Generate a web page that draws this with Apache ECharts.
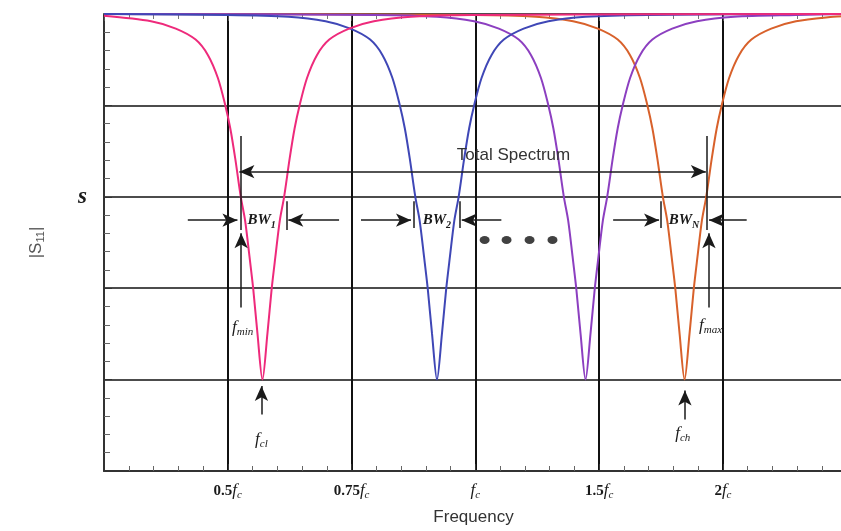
<!DOCTYPE html>
<html>
<head>
<meta charset="utf-8">
<script src="https://cdn.jsdelivr.net/npm/echarts@6/dist/echarts.min.js"></script>
<style>
  html, body { margin: 0; padding: 0; background: #fff; overflow: hidden; }
  /* a bit wider than the window so the plot runs off the right edge like the original */
  #chart { width: 846px; height: 531px; }
</style>
</head>
<body>
<div id="chart"></div>
<script>
// x ticks: one unit per grid column, label coefficient of f_c (null = no label)
const xTickCoef = [null, '0.5', '0.75', '', '1.5', '2'];
const yTickLabels = ['', '', '', 's', '', ''];

// |S11| curves, [x, y]
const pink = [[0,4.98],[0.38,4.92],[0.58,4.84],[0.74,4.72],[0.84,4.55],[0.92,4.3],[0.98,4.0],[1.02,3.75],[1.06,3.42],[1.105,3.0],[1.14,2.74],[1.175,2.35],[1.205,2.0],[1.24,1.5],[1.28,1.0],[1.32,1.5],[1.355,2.0],[1.385,2.35],[1.42,2.74],[1.455,3.0],[1.5,3.42],[1.54,3.75],[1.58,4.0],[1.64,4.3],[1.72,4.55],[1.82,4.72],[1.98,4.84],[2.18,4.92],[2.48,4.97],[2.98,4.99],[5.97,5.0]];
const blue = [[0,5.0],[0.99,4.99],[1.49,4.97],[1.79,4.92],[1.99,4.84],[2.15,4.72],[2.25,4.55],[2.33,4.3],[2.39,4.0],[2.43,3.75],[2.47,3.42],[2.515,3.0],[2.55,2.74],[2.585,2.35],[2.615,2.0],[2.65,1.5],[2.69,1.0],[2.73,1.5],[2.765,2.0],[2.795,2.35],[2.83,2.74],[2.865,3.0],[2.91,3.42],[2.95,3.75],[2.99,4.0],[3.05,4.3],[3.13,4.55],[3.23,4.72],[3.39,4.84],[3.59,4.92],[3.89,4.97],[4.39,4.99],[5.97,5.0]];
const purple = [[0,5.0],[2.19,4.99],[2.69,4.97],[2.99,4.92],[3.19,4.84],[3.35,4.72],[3.45,4.55],[3.53,4.3],[3.59,4.0],[3.63,3.75],[3.67,3.42],[3.715,3.0],[3.75,2.74],[3.785,2.35],[3.815,2.0],[3.85,1.5],[3.89,1.0],[3.93,1.5],[3.965,2.0],[3.995,2.35],[4.03,2.74],[4.065,3.0],[4.11,3.42],[4.15,3.75],[4.19,4.0],[4.25,4.3],[4.33,4.55],[4.43,4.72],[4.59,4.84],[4.79,4.92],[5.09,4.97],[5.59,4.99],[5.97,5.0]];
const orange = [[0,5.0],[2.99,4.99],[3.49,4.97],[3.79,4.92],[3.99,4.84],[4.15,4.72],[4.25,4.55],[4.33,4.3],[4.39,4.0],[4.43,3.75],[4.47,3.42],[4.515,3.0],[4.55,2.74],[4.585,2.35],[4.615,2.0],[4.65,1.5],[4.69,1.0],[4.73,1.5],[4.765,2.0],[4.795,2.35],[4.83,2.74],[4.865,3.0],[4.91,3.42],[4.95,3.75],[4.99,4.0],[5.05,4.3],[5.13,4.55],[5.23,4.72],[5.39,4.84],[5.59,4.92],[5.89,4.97],[5.97,4.975]];
const dots = [[3.075,2.527],[3.252,2.527],[3.438,2.527],[3.623,2.527]];

const serif = '"Liberation Serif", "DejaVu Serif", serif';
const sans = '"Liberation Sans", Arial, sans-serif';
const ink = '#1a1a1a';

const mathRich = {
  n: { fontFamily: serif, fontWeight: 'bold', fontSize: 15, color: ink },
  f: { fontFamily: serif, fontStyle: 'italic', fontSize: 17, color: ink },
  sub: { fontFamily: serif, fontStyle: 'italic', fontSize: 11, color: ink, padding: [9, 0, 0, 0] },
  bw: { fontFamily: serif, fontStyle: 'italic', fontWeight: 'bold', fontSize: 15, color: ink },
  bsub: { fontFamily: serif, fontStyle: 'italic', fontWeight: 'bold', fontSize: 10, color: ink, padding: [9, 0, 0, 0] },
  s: { fontFamily: serif, fontStyle: 'italic', fontWeight: 'bold', fontSize: 23, color: ink }
};

const chart = echarts.init(document.getElementById('chart'));

const curve = (name, data, color) => ({
  name, type: 'line', data, smooth: 0.3, showSymbol: false, silent: true,
  lineStyle: { color, width: 2 }, z: 3
});

// helpers for annotations (data coordinates)
const arrow = (x1, y1, x2, y2) => [{ coord: [x1, y1], symbol: 'none' }, { coord: [x2, y2], symbol: 'arrow' }];
const seg = (x1, y1, x2, y2) => [{ coord: [x1, y1], symbol: 'none' }, { coord: [x2, y2], symbol: 'none' }];
const txt = (x, y, formatter, extra) => ({
  coord: [x, y], symbol: 'circle', symbolSize: 0,
  label: Object.assign({ show: true, position: 'inside', formatter, rich: mathRich }, extra || {})
});

const option = {
  animation: false,
  backgroundColor: '#fff',
  grid: { left: 104, right: 0, top: 14, bottom: 56 },
  xAxis: [
    {
      type: 'value', min: 0, max: 5.97, interval: 1,
      axisLine: { show: true, lineStyle: { color: '#333', width: 2 } },
      axisTick: { show: true, inside: true, length: 7, lineStyle: { color: '#333' } },
      minorTick: { show: true, splitNumber: 5, length: 5, lineStyle: { color: '#666' } },
      splitLine: { show: true, lineStyle: { color: '#111', width: 2 } },
      axisLabel: {
        margin: 10,
        formatter: v => {
          const i = Math.round(v);
          if (Math.abs(v - i) > 1e-6 || xTickCoef[i] == null) return '';
          return (xTickCoef[i] ? '{n|' + xTickCoef[i] + '}' : '') + '{f|f}{sub|c}';
        },
        rich: mathRich
      },
      name: 'Frequency', nameLocation: 'middle', nameGap: 38,
      nameTextStyle: { fontFamily: sans, fontSize: 17, color: '#333', padding: [0, 0, 0, 0] }
    },
    {
      type: 'value', position: 'top', min: 0, max: 5.97, interval: 1,
      axisLine: { show: true, lineStyle: { color: '#555', width: 1 } },
      axisTick: { show: true, inside: true, length: 7, lineStyle: { color: '#555' } },
      minorTick: { show: true, splitNumber: 5, length: 5, lineStyle: { color: '#777' } },
      splitLine: { show: false }, axisLabel: { show: false }
    }
  ],
  yAxis: {
    type: 'value', min: 0, max: 5, interval: 1,
    axisLine: { show: true, lineStyle: { color: '#333', width: 2 } },
    axisTick: { show: true, inside: true, length: 8, lineStyle: { color: '#333' } },
    minorTick: { show: true, splitNumber: 5, length: 6, lineStyle: { color: '#666' } },
    splitLine: { show: true, lineStyle: { color: '#111', width: 1.5 } },
    axisLabel: {
      margin: 17,
      formatter: v => {
        const i = Math.round(v);
        return yTickLabels[i] ? '{s|' + yTickLabels[i] + '}' : '';
      },
      rich: mathRich
    },
    name: '|S{ss|11}|', nameLocation: 'middle', nameRotate: 90, nameGap: 58,
    nameTextStyle: {
      fontFamily: sans, fontSize: 17, color: '#555',
      rich: { ss: { fontFamily: sans, fontSize: 11, color: '#555', padding: [8, 0, 0, 0] } }
    }
  },
  series: [
    curve('f1', orange, '#d8612b'),
    curve('f2', purple, '#8c3fc0'),
    curve('f3', blue, '#3f47b6'),
    curve('f4', pink, '#ee2a7b'),
    {
      name: 'dots', type: 'scatter', data: dots, symbol: 'circle', symbolSize: [10, 8],
      itemStyle: { color: '#111' }, silent: true, z: 5
    },
    {
      name: 'notes', type: 'scatter', data: [], silent: true, z: 6,
      markLine: {
        silent: true, animation: false, symbolSize: [10, 15],
        label: { show: false },
        lineStyle: { color: ink, width: 1.5, type: 'solid' },
        data: [
          // total spectrum double arrow
          [{ coord: [1.094, 3.275], symbol: 'arrow' }, { coord: [4.862, 3.275], symbol: 'arrow' }],
          // f_min / f_max marker lines
          seg(1.108, 3.666, 1.108, 2.636),
          seg(4.872, 3.666, 4.872, 2.636),
          // bandwidth brackets
          seg(1.473, 2.95, 1.473, 2.636),
          seg(2.503, 2.95, 2.503, 2.66),
          seg(2.873, 2.95, 2.873, 2.66),
          seg(4.5, 2.95, 4.5, 2.66),
          // bandwidth arrows
          arrow(0.677, 2.744, 1.078, 2.744),
          arrow(1.899, 2.744, 1.489, 2.744),
          arrow(2.076, 2.744, 2.48, 2.744),
          arrow(3.21, 2.744, 2.89, 2.744),
          arrow(4.113, 2.744, 4.484, 2.744),
          arrow(5.192, 2.744, 4.888, 2.744),
          // f_min, f_max, f_cl, f_ch arrows
          arrow(1.108, 1.79, 1.108, 2.6),
          arrow(4.887, 1.79, 4.887, 2.6),
          arrow(1.272, 0.618, 1.272, 0.93),
          arrow(4.693, 0.564, 4.693, 0.88)
        ]
      },
      markPoint: {
        silent: true, animation: false,
        data: [
          txt(3.308, 3.45, 'Total Spectrum', { fontFamily: sans, fontSize: 17, color: '#333' }),
          txt(1.273, 2.74, '{bw|BW}{bsub|1}'),
          txt(2.689, 2.74, '{bw|BW}{bsub|2}'),
          txt(4.685, 2.74, '{bw|BW}{bsub|N}'),
          txt(1.12, 1.573, '{f|f}{sub|min}'),
          txt(4.9, 1.594, '{f|f}{sub|max}'),
          txt(1.272, 0.347, '{f|f}{sub|cl}'),
          txt(4.676, 0.412, '{f|f}{sub|ch}')
        ]
      }
    }
  ]
};

chart.setOption(option);
</script>
</body>
</html>
